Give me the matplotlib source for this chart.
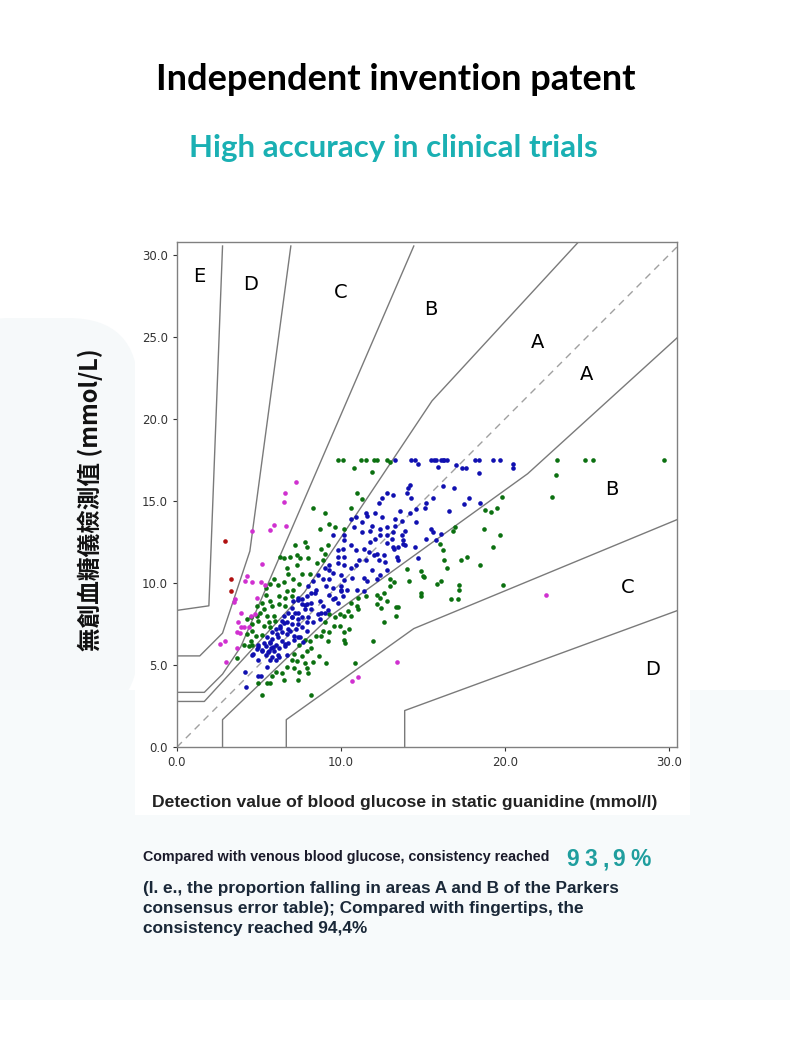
import numpy as np
import matplotlib
matplotlib.use("Agg")
import matplotlib.pyplot as plt
from matplotlib.patches import FancyBboxPatch, Rectangle

# ---- Parkes error grid boundaries (mg/dL, type 1), shown in mmol/L ----
MGDL = 18.0
zone_lines_mgdl = [
    [(0, 150), (35, 155), (50, 550)],                              # E / D
    [(0, 100), (25, 100), (50, 125), (80, 215), (125, 550)],       # D / C upper
    [(0, 60), (30, 60), (50, 80), (70, 110), (260, 550)],          # C / B upper
    [(0, 50), (30, 50), (140, 170), (280, 380), (5000, 5500)],     # B / A upper
    [(50, 0), (50, 30), (170, 145), (385, 300), (550, 450)],       # A / B lower
    [(120, 0), (120, 30), (260, 130), (550, 250)],                 # B / C lower
    [(250, 0), (250, 40), (550, 150)],                             # C / D lower
]
zone_labels = ["E", "D", "C", "B", "A", "A", "B", "C", "D"]
zone_label_x = [1.35, 4.5, 10.0, 15.5, 22.0, 25.0, 26.5, 27.5, 29.0]
zone_label_y = [28.7, 28.2, 27.7, 26.7, 24.7, 22.7, 15.7, 9.7, 4.75]

# ---- measured points (mmol/L): reference x, device y ----
blue_pts = [
    (13.3, 17.5), (14.3, 17.5), (14.5, 17.5), (15.5, 17.5), (15.7, 17.5), (15.8, 17.5),
    (16.1, 17.5), (16.2, 17.5), (16.3, 17.5), (16.5, 17.5), (18.2, 17.5), (18.4, 17.5),
    (19.3, 17.5), (19.7, 17.5), (14.7, 17.25), (15.9, 17.1), (17.0, 17.2), (17.4, 17.0),
    (17.6, 17.0), (18.45, 16.7), (20.5, 17.25), (20.5, 17.0),
    (14.2, 16.0), (14.1, 15.8), (12.8, 15.5), (13.2, 15.4), (12.5, 15.2), (12.3, 14.9),
    (12.1, 14.3), (11.5, 14.3), (11.6, 14.1), (14.0, 15.5), (14.3, 15.2), (14.6, 14.5),
    (14.2, 14.3), (15.2, 14.9), (15.1, 14.6), (15.6, 15.2), (16.2, 15.9), (16.9, 15.8),
    (16.6, 14.4), (17.5, 14.8), (17.8, 15.2), (18.5, 14.9), (13.6, 14.4), (13.3, 13.9),
    (12.5, 14.0), (10.9, 14.0), (10.8, 13.4), (11.3, 13.7), (11.9, 13.5), (12.4, 13.3),
    (12.8, 13.4), (13.3, 13.5), (13.7, 13.8), (14.6, 13.7), (15.5, 13.3), (15.6, 13.1),
    (16.1, 13.0), (15.2, 12.7), (15.8, 12.6), (13.2, 13.1), (13.1, 12.7), (13.7, 12.9),
    (13.8, 12.6), (12.8, 12.95), (12.4, 12.95), (12.1, 12.7), (11.8, 12.5), (10.2, 12.9),
    (10.2, 12.6), (9.5, 12.9), (10.6, 12.3), (10.1, 12.1), (9.8, 12.0), (9.8, 11.6),
    (10.2, 11.6), (10.9, 12.0), (11.4, 12.1), (11.7, 11.9), (12.2, 11.8), (12.6, 11.7),
    (13.2, 12.2), (13.25, 12.05), (13.5, 12.2), (13.8, 12.4), (13.9, 12.3), (14.5, 12.2),
    (13.4, 11.6), (13.5, 11.4), (12.7, 11.3), (12.3, 11.4), (12.0, 11.7), (11.5, 11.4),
    (11.1, 11.4), (10.9, 11.1), (10.6, 10.9), (10.2, 11.1), (9.8, 11.2), (9.3, 11.1),
    (9.3, 10.8), (9.0, 10.9), (9.5, 10.6), (10.0, 10.5), (10.2, 10.2), (10.7, 10.3),
    (11.4, 10.3), (11.6, 10.1), (11.9, 10.8), (12.4, 10.5), (12.8, 10.8), (12.2, 10.25),
    (9.3, 10.25), (8.9, 10.25), (8.6, 10.5), (8.3, 10.1), (9.1, 9.8), (9.5, 9.7),
    (10.0, 9.8), (10.0, 9.5), (10.4, 9.6), (11.0, 9.6), (11.4, 9.5), (9.3, 9.3),
    (9.65, 9.1), (10.1, 9.2), (8.2, 9.4), (8.0, 9.8), (8.5, 9.6), (7.9, 9.2),
    (7.6, 9.0), (7.4, 9.1), (7.1, 8.9), (7.6, 8.7), (7.9, 8.7), (8.2, 8.8),
    (8.7, 8.9), (8.9, 8.6), (8.2, 8.4), (7.8, 8.4), (7.4, 8.2), (7.0, 8.5),
    (6.8, 8.2), (6.5, 8.0), (7.0, 7.9), (7.4, 7.8), (7.6, 7.9), (8.0, 7.9),
    (8.6, 8.1), (9.0, 8.2), (8.7, 7.8), (8.3, 7.6), (7.9, 7.6), (7.4, 7.5),
    (7.0, 7.5), (6.7, 7.6), (6.4, 7.7), (6.3, 7.4), (6.8, 7.2), (7.25, 7.2),
    (7.6, 7.3), (7.9, 7.1), (6.05, 7.2), (5.8, 7.0), (6.4, 7.0), (6.7, 6.9),
    (7.15, 6.8), (7.5, 6.7), (6.15, 6.7), (5.8, 6.6), (5.5, 6.7), (5.65, 6.35),
    (6.05, 6.25), (6.4, 6.45), (6.8, 6.35), (7.15, 6.55), (5.3, 6.35), (4.95, 6.25),
    (5.4, 6.15), (5.75, 6.05), (6.2, 6.05), (6.6, 6.15), (4.85, 5.95), (5.2, 5.85),
    (5.6, 5.85), (5.9, 5.85), (4.6, 5.6), (5.4, 5.6), (5.8, 5.5), (6.25, 5.5),
    (6.7, 5.6), (5.7, 5.3), (6.05, 5.3), (4.15, 4.6), (5.5, 4.9), (4.95, 4.3),
    (5.1, 4.35), (4.2, 3.65), (4.95, 5.3), (10.6, 13.9), (11.3, 13.1), (11.8, 13.2),
    (13.9, 13.2), (12.8, 12.45), (14.7, 11.5),
    (7.4, 8.96), (7.8, 8.66), (8.4, 9.4), (7.2, 8.2), (6.5, 7.55), (6.9, 7.1),
    (6.1, 6.9), (5.85, 6.1), (5.55, 5.8), (6.15, 5.6), (5.2, 5.9), (4.65, 5.7),
    (7.4, 6.7), (7.7, 6.4), (6.6, 6.3), (8.8, 8.15), (9.2, 8.35), (9.5, 9.0),
    (9.8, 8.8), (10.0, 9.6), (7.0, 7.95), (6.3, 7.25), (5.7, 6.4), (4.95, 6.1),
]
green_pts = [
    (9.8, 17.5), (10.1, 17.5), (11.2, 17.5), (11.5, 17.5), (12.0, 17.5), (12.2, 17.5),
    (12.8, 17.5), (13.0, 17.4), (10.8, 17.0), (11.9, 16.75),
    (23.2, 17.5), (24.9, 17.5), (25.4, 17.5), (29.7, 17.5), (23.1, 16.6), (22.9, 15.25),
    (11.0, 15.5), (11.3, 15.1), (10.6, 14.55), (8.3, 14.55), (9.05, 14.3), (9.3, 13.6),
    (8.7, 13.3), (9.65, 13.4), (10.2, 13.3), (7.8, 12.5), (7.2, 12.3), (6.5, 11.5),
    (6.9, 11.6), (7.35, 11.7), (6.3, 11.6), (7.9, 12.2), (8.8, 12.05), (9.2, 12.3),
    (9.05, 11.8), (8.9, 11.4), (8.55, 11.2), (8.0, 11.5), (7.5, 11.5), (7.35, 11.1),
    (6.7, 10.9), (6.8, 10.55), (7.6, 10.55), (8.1, 10.55), (5.9, 10.25), (5.7, 9.95),
    (5.4, 9.7), (6.15, 9.85), (6.5, 10.05), (7.1, 10.25), (7.45, 9.95), (6.7, 9.5),
    (7.1, 9.6), (6.2, 9.2), (6.6, 9.1), (7.0, 9.2), (5.4, 9.3), (5.7, 8.9),
    (5.8, 8.6), (6.25, 8.7), (6.6, 8.6), (5.2, 8.8), (5.3, 8.4), (4.85, 8.6),
    (5.05, 8.2), (5.5, 8.0), (5.9, 8.0), (4.9, 8.0), (4.5, 7.9), (4.3, 7.8),
    (4.6, 7.5), (4.95, 7.7), (5.3, 7.4), (5.6, 7.6), (5.7, 7.3), (5.95, 7.7),
    (4.6, 7.1), (4.3, 6.9), (4.8, 6.75), (5.2, 6.85), (4.5, 6.45), (4.1, 6.25),
    (4.4, 6.15), (4.6, 6.25), (3.65, 5.45),
    (13.0, 10.25), (13.25, 10.05), (13.0, 9.8), (12.6, 9.4), (12.2, 9.3), (12.4, 9.1),
    (12.8, 8.9), (12.2, 8.7), (12.45, 8.5), (11.5, 9.2), (11.05, 9.1), (10.6, 8.8),
    (10.95, 8.6), (11.05, 8.4), (10.45, 8.3), (10.2, 8.0), (10.6, 8.0), (9.95, 8.1),
    (9.65, 7.9), (9.3, 8.1), (9.05, 7.6), (9.55, 7.4), (9.95, 7.4), (10.5, 7.2),
    (10.2, 7.0), (9.3, 7.0), (8.9, 7.1), (8.8, 6.75), (9.2, 6.45), (8.45, 6.75),
    (8.1, 6.45), (7.8, 6.55), (7.45, 6.25), (8.2, 6.05), (7.95, 5.85), (7.6, 5.55),
    (7.15, 5.65), (7.35, 5.25), (7.0, 5.3), (6.7, 4.9), (7.15, 4.8), (7.45, 4.6),
    (7.9, 4.8), (8.0, 4.5), (8.3, 5.2), (8.65, 5.55), (9.1, 5.1), (7.8, 5.1),
    (6.4, 4.5), (6.05, 4.6), (5.8, 4.3), (6.5, 4.1), (7.4, 4.1), (5.5, 3.9),
    (5.7, 3.9), (4.95, 3.9), (5.2, 3.2), (8.2, 3.2), (10.85, 5.1), (10.2, 6.5),
    (10.25, 6.35), (11.95, 6.45), (12.6, 7.6), (13.35, 8.55), (13.5, 8.55), (13.35, 8.0),
    (15.0, 10.45), (15.05, 10.35), (14.9, 10.75), (14.0, 10.85), (14.15, 10.15), (14.9, 9.4),
    (14.9, 9.2), (15.85, 9.95), (16.1, 10.15), (16.3, 11.4), (16.2, 12.0), (16.05, 12.4),
    (16.5, 10.9), (17.2, 9.85), (17.2, 9.6), (16.7, 9.0), (17.15, 9.0), (17.3, 11.4),
    (17.7, 11.6), (18.5, 11.1), (19.25, 12.2), (19.7, 12.9), (18.7, 13.3), (18.8, 14.45),
    (19.15, 14.35), (19.5, 14.55), (19.8, 15.25), (19.9, 9.85), (16.85, 13.2), (16.95, 13.4),
]
magenta_pts = [
    (7.25, 16.15), (6.6, 15.5), (6.5, 14.95), (6.65, 13.5), (5.9, 13.55), (5.65, 13.25),
    (4.6, 13.15), (5.2, 11.15), (4.25, 10.4), (4.15, 10.15), (4.6, 10.05), (5.1, 10.05),
    (5.35, 9.85), (4.85, 9.1), (3.55, 9.0), (3.45, 8.85), (3.9, 8.15), (4.5, 8.0),
    (4.75, 8.1), (3.75, 7.6), (3.9, 7.3), (4.1, 7.3), (4.4, 7.3), (3.65, 7.0),
    (3.85, 6.95), (3.65, 6.05), (2.6, 6.3), (2.9, 6.45), (3.0, 5.2),
    (10.65, 4.05), (11.05, 4.25), (13.45, 5.2), (22.5, 9.3),
]
red_pts = [(2.95, 12.55), (3.3, 10.25), (3.3, 9.5)]

headline_pct = ["9", "3", ",", "9", "%"]
headline_pct_px = [566, 584, 602, 612, 630]

W, H = 790, 1047
fig = plt.figure(figsize=(W / 100, H / 100), dpi=100)
fig.patch.set_facecolor("white")

# faint background shapes
bg = fig.add_axes([0, 0, 1, 1], zorder=-5)
bg.set_xlim(0, W)
bg.set_ylim(H, 0)
bg.axis("off")
bg.add_patch(FancyBboxPatch((-60, 318), 198, 400, boxstyle="round,pad=0,rounding_size=70",
                            fc="#f6f9fa", ec="none"))
bg.add_patch(Rectangle((0, 690), W, 310, fc="#f7fafb", ec="none"))
bg.add_patch(Rectangle((135, 225), 555, 590, fc="white", ec="none"))

fig.text(396 / W, 1 - 80 / H, "Independent invention patent", ha="center", va="center",
         fontsize=26, fontweight="bold", family="Lato", color="black")
fig.text(393 / W, 1 - 148 / H, "High accuracy in clinical trials", ha="center", va="center",
         fontsize=22.5, fontweight="bold", family="Lato", color="#1ab0b3")

ax = fig.add_axes([177 / W, 1 - 747 / H, 500 / W, 505 / H])
ax.set_xlim(0, 30.5)
ax.set_ylim(0, 30.8)

for line in zone_lines_mgdl:
    arr = np.array(line, dtype=float) / MGDL
    ax.plot(arr[:, 0], arr[:, 1], color="#7a7a7a", lw=1.0, zorder=2)
ax.plot([0, 31], [0, 31], color="#a0a0a0", lw=1.0, ls=(0, (5, 4)), zorder=1)

for lab, lx, ly in zip(zone_labels, zone_label_x, zone_label_y):
    ax.text(lx, ly, lab, ha="center", va="center", fontsize=14, color="black",
            family="DejaVu Sans")

for pts, col in [(green_pts, "#0b7010"), (blue_pts, "#1010b0"),
                 (magenta_pts, "#d030d0"), (red_pts, "#b01010")]:
    arr = np.array(pts)
    ax.scatter(arr[:, 0], arr[:, 1], s=11, color=col, linewidths=0, zorder=3)

ax.set_xticks([0, 10, 20, 30])
ax.set_yticks([0, 5, 10, 15, 20, 25, 30])
ax.xaxis.set_major_formatter(matplotlib.ticker.FormatStrFormatter("%.1f"))
ax.yaxis.set_major_formatter(matplotlib.ticker.FormatStrFormatter("%.1f"))
ax.tick_params(labelsize=8.5, colors="#333333", length=3, width=0.8)
for sp in ax.spines.values():
    sp.set_color("#808080")
    sp.set_linewidth(1.0)

fig.text(90 / W, 1 - 500 / H, "無創血糖儀檢測值 (mmol/L)", rotation=90, ha="center",
         va="center", fontsize=17, fontweight="bold", family=["Noto Sans CJK TC", "DejaVu Sans"],
         color="#111111")
fig.text(405 / W, 1 - 803 / H, "Detection value of blood glucose in static guanidine (mmol/l)",
         ha="center", va="center", fontsize=12.6, fontweight="bold", family="Liberation Sans",
         color="#222222")

fig.text(143 / W, 1 - 857 / H, "Compared with venous blood glucose, consistency reached",
         ha="left", va="center", fontsize=10.3, fontweight="bold", family="Liberation Sans",
         color="#1a1a2a")
for ch, px in zip(headline_pct, headline_pct_px):
    fig.text(px / W, 1 - 860 / H, ch, ha="left", va="center", fontsize=16.5,
             fontweight="bold", family="Liberation Sans", color="#1f9e9e")
para = ["(I. e., the proportion falling in areas A and B of the Parkers",
        "consensus error table); Compared with fingertips, the",
        "consistency reached 94,4%"]
for i, ln in enumerate(para):
    fig.text(143 / W, 1 - (888 + 20.5 * i) / H, ln, ha="left", va="center", fontsize=12.4,
             fontweight="bold", family="Liberation Sans", color="#1a2838")

fig.savefig("out.png", dpi=100)
